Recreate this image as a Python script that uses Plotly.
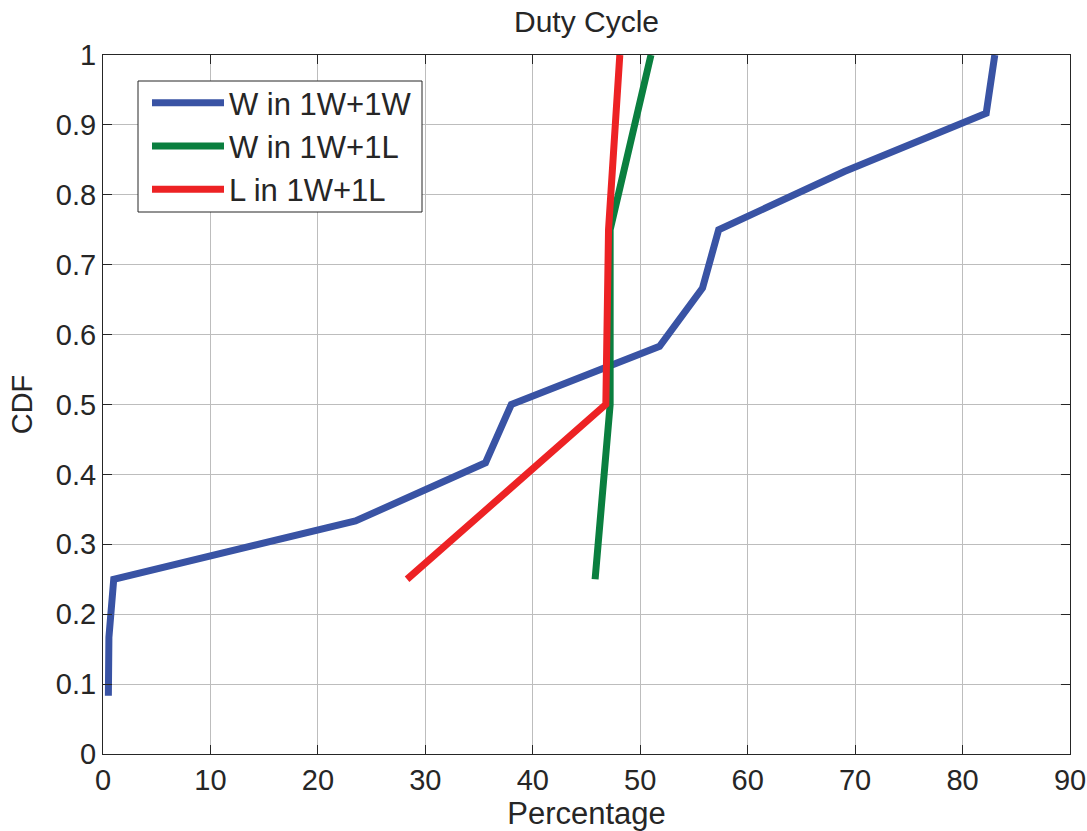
import plotly.graph_objects as go

# CDF levels and duty-cycle percentages for each radio configuration
cdf_ww = [1/12, 2/12, 3/12, 4/12, 5/12, 6/12, 7/12, 8/12, 9/12, 10/12, 11/12, 12/12]
duty_w_ww = [0.5, 0.55, 1.0, 23.5, 35.6, 38.0, 51.8, 55.8, 57.3, 69.0, 82.2, 83.0]

cdf_wl = [0.25, 0.5, 0.75, 1.0]
duty_w_wl = [45.8, 47.2, 47.2, 51.0]
duty_l_wl = [28.3, 46.8, 47.05, 48.1]

series_names = ["W in 1W+1W", "W in 1W+1L", "L in 1W+1L"]
series_colors = ["#3953A4", "#0A7F3F", "#ED2224"]

x_ticks = list(range(0, 91, 10))
y_ticks = [round(0.1 * i, 1) for i in range(11)]
y_tick_text = ["0"] + [f"{v:g}" for v in y_ticks[1:]]

FONT = "Liberation Sans, Arial, sans-serif"
TEXT = "#262626"

fig = go.Figure()
for xs, ys, name, color in [
    (duty_w_ww, cdf_ww, series_names[0], series_colors[0]),
    (duty_w_wl, cdf_wl, series_names[1], series_colors[1]),
    (duty_l_wl, cdf_wl, series_names[2], series_colors[2]),
]:
    fig.add_trace(go.Scatter(x=xs, y=ys, mode="lines", name=name,
                             line=dict(color=color, width=7)))

axis_common = dict(
    showline=True, linecolor="#262626", linewidth=1, mirror="ticks",
    ticks="inside", ticklen=9, tickcolor="#262626", tickwidth=1,
    showgrid=True, gridcolor="#BDBDBD", gridwidth=1, zeroline=False,
    automargin=False,
    tickfont=dict(family=FONT, size=29, color=TEXT),
)

fig.update_layout(
    width=1087, height=831,
    margin=dict(l=103, r=17, t=55, b=77),
    paper_bgcolor="white", plot_bgcolor="white",
    font=dict(family=FONT, color=TEXT),
    title=dict(text="Duty Cycle", x=0.5, xref="paper", xanchor="center",
               y=1 - 21 / 831, yref="container", yanchor="middle",
               font=dict(family=FONT, size=30, color=TEXT)),
    xaxis=dict(range=[0, 90], tickvals=x_ticks, ticktext=[str(v) for v in x_ticks],
               title=dict(text="Percentage", standoff=11,
                          font=dict(family=FONT, size=31, color=TEXT)),
               **axis_common),
    yaxis=dict(range=[0, 1], tickvals=y_ticks, ticktext=y_tick_text,
               title=dict(text="CDF", standoff=14,
                          font=dict(family=FONT, size=29, color=TEXT)),
               **axis_common),
    legend=dict(x=(147 - 103) / 967, y=(754 - 76) / 699, xanchor="left", yanchor="top",
                bgcolor="rgba(0,0,0,0)", borderwidth=0,
                itemwidth=72,
                font=dict(family=FONT, size=31, color=TEXT)),
    shapes=[dict(type="rect", xref="paper", yref="paper",
                 x0=(138 - 103) / 967, x1=(422 - 103) / 967,
                 y0=(754 - 212) / 699, y1=(754 - 81) / 699,
                 line=dict(color="#262626", width=1), fillcolor="white",
                 layer="above")],
)

fig.write_html("out.html")
